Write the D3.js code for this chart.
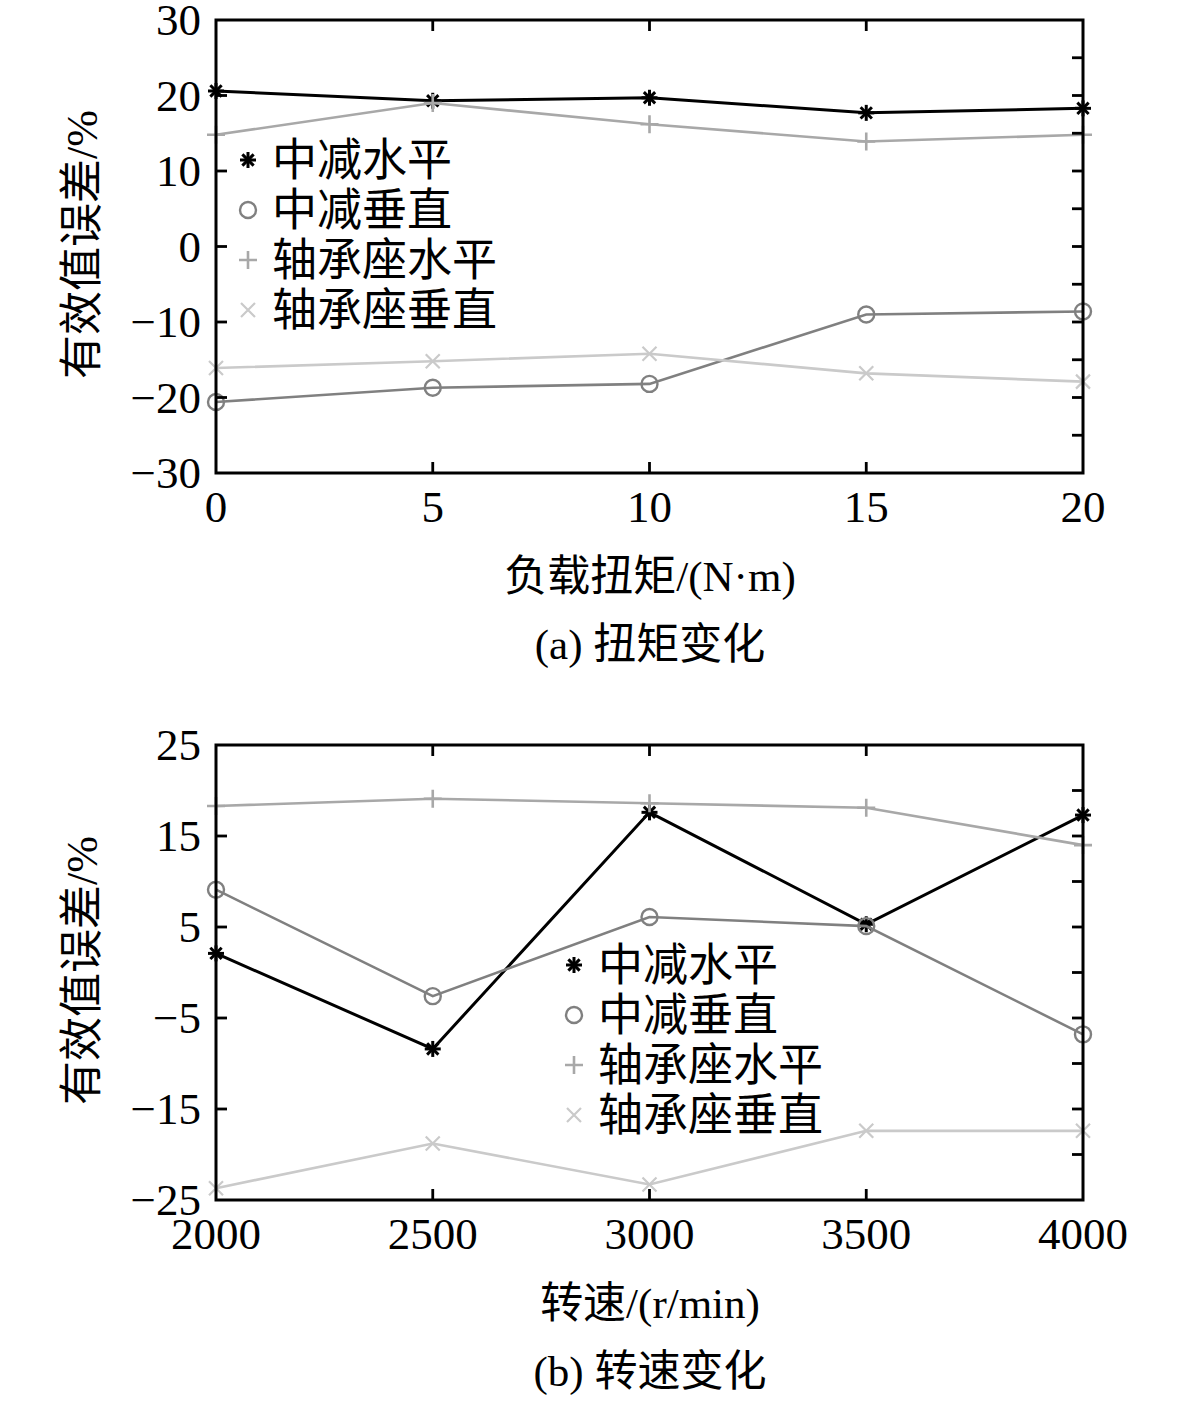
<!DOCTYPE html>
<html>
<head>
<meta charset="utf-8">
<script src="https://cdn.jsdelivr.net/npm/d3@7"></script>
<style>
  body { margin: 0; background: #fff; }
  text { font-family: "Liberation Serif", "Noto Sans CJK SC", serif; fill: #000; }
</style>
</head>
<body>
<div id="chart"></div>
<script>
// series names and styles
var seriesNames = ['中减水平', '中减垂直', '轴承座水平', '轴承座垂直'];
var seriesColors = ['#000000', '#808080', '#a8a8a8', '#cacaca'];
var seriesMarkers = ['star', 'circle', 'plus', 'cross'];

// (a) torque
var torqueX = [0, 5, 10, 15, 20];
var torqueMidH = [20.6, 19.3, 19.7, 17.7, 18.3];
var torqueMidV = [-20.6, -18.7, -18.2, -9.0, -8.6];
var torqueBearH = [14.8, 19.0, 16.2, 13.9, 14.8];
var torqueBearV = [-16.1, -15.2, -14.2, -16.8, -17.9];
var torqueXTicks = [0, 5, 10, 15, 20];
var torqueYTicks = [30, 20, 10, 0, -10, -20, -30];
var torqueYMinor = [25, 20, 15, 10, 5, 0, -5, -10, -15, -20, -25];

// (b) speed
var speedX = [2000, 2500, 3000, 3500, 4000];
var speedMidH = [2.1, -8.4, 17.6, 5.3, 17.3];
var speedMidV = [9.1, -2.6, 6.1, 5.1, -6.8];
var speedBearH = [18.3, 19.1, 18.6, 18.1, 14.0];
var speedBearV = [-23.7, -18.8, -23.3, -17.4, -17.4];
var speedXTicks = [2000, 2500, 3000, 3500, 4000];
var speedYTicks = [25, 15, 5, -5, -15, -25];
var speedYMinor = [20, 15, 10, 5, 0, -5, -10, -15, -20];

var W = 1181, H = 1415;
var svg = d3.select('#chart').append('svg').attr('width', W).attr('height', H);

function minus(v) { return String(v).replace('-', '\u2212'); }

function marker(g, type, color, x, y) {
  var s = 8;
  if (type == 'star') {
    for (var a = 0; a < 4; a++) {
      var ang = a * Math.PI / 4;
      g.append('line')
        .attr('x1', x - s * Math.cos(ang)).attr('y1', y - s * Math.sin(ang))
        .attr('x2', x + s * Math.cos(ang)).attr('y2', y + s * Math.sin(ang))
        .attr('stroke', color).attr('stroke-width', 3);
    }
  } else if (type == 'circle') {
    g.append('circle').attr('cx', x).attr('cy', y).attr('r', 8)
      .attr('fill', 'none').attr('stroke', color).attr('stroke-width', 2.4);
  } else if (type == 'plus') {
    g.append('path').attr('d', 'M' + (x - 9) + ',' + y + 'H' + (x + 9) + 'M' + x + ',' + (y - 9) + 'V' + (y + 9))
      .attr('stroke', color).attr('stroke-width', 2.6);
  } else {
    g.append('path').attr('d', 'M' + (x - 7) + ',' + (y - 7) + 'L' + (x + 7) + ',' + (y + 7) + 'M' + (x - 7) + ',' + (y + 7) + 'L' + (x + 7) + ',' + (y - 7))
      .attr('stroke', color).attr('stroke-width', 2.2);
  }
}

function drawPanel(opt) {
  var left = 216, right = 1083;
  var g = svg.append('g');
  var x = d3.scaleLinear().domain(opt.xDomain).range([left, right]);
  var y = d3.scaleLinear().domain(opt.yDomain).range([opt.bottom, opt.top]);
  var tl = 11;

  // series lines
  opt.series.forEach(function(vals, i) {
    var pts = opt.xs.map(function(d, j) { return [x(d), y(vals[j])]; });
    g.append('path').attr('d', d3.line()(pts))
      .attr('fill', 'none').attr('stroke', seriesColors[i])
      .attr('stroke-width', i == 0 ? 3 : 2.6);
    pts.forEach(function(p) { marker(g, seriesMarkers[i], seriesColors[i], p[0], p[1]); });
  });

  // ticks
  var tk = g.append('g').attr('stroke', '#000').attr('stroke-width', 2.8);
  opt.xTicks.slice(1, -1).forEach(function(t) {
    tk.append('line').attr('x1', x(t)).attr('x2', x(t)).attr('y1', opt.bottom).attr('y2', opt.bottom - tl);
    tk.append('line').attr('x1', x(t)).attr('x2', x(t)).attr('y1', opt.top).attr('y2', opt.top + tl);
  });
  opt.yTicks.slice(1, -1).forEach(function(t) {
    tk.append('line').attr('x1', left).attr('x2', left + tl).attr('y1', y(t)).attr('y2', y(t));
  });
  opt.yMinor.forEach(function(t) {
    tk.append('line').attr('x1', right).attr('x2', right - tl).attr('y1', y(t)).attr('y2', y(t));
  });

  // frame
  g.append('rect').attr('x', left).attr('y', opt.top)
    .attr('width', right - left).attr('height', opt.bottom - opt.top)
    .attr('fill', 'none').attr('stroke', '#000').attr('stroke-width', 3);

  // tick labels
  opt.xTicks.forEach(function(t) {
    g.append('text').attr('x', x(t)).attr('y', opt.bottom + 49)
      .attr('text-anchor', 'middle').attr('font-size', 45).text(t);
  });
  opt.yTicks.forEach(function(t) {
    g.append('text').attr('x', 201).attr('y', y(t) + 15)
      .attr('text-anchor', 'end').attr('font-size', 45).text(minus(t));
  });

  // axis titles
  g.append('text').attr('transform', 'translate(97,' + ((opt.top + opt.bottom) / 2 - 2) + ') rotate(-90)')
    .attr('text-anchor', 'middle').attr('font-size', 44).text('有效值误差/%');
  g.append('text').attr('x', 650).attr('y', opt.bottom + 118)
    .attr('text-anchor', 'middle').attr('font-size', 43).text(opt.xLabel);
  g.append('text').attr('x', 650).attr('y', opt.bottom + 186)
    .attr('text-anchor', 'middle').attr('font-size', 43).text(opt.caption);

  // legend
  seriesNames.forEach(function(n, i) {
    var ly = opt.legendY + i * 50;
    marker(g, seriesMarkers[i], seriesColors[i], opt.legendX, ly);
    g.append('text').attr('x', opt.legendX + 24).attr('y', ly + 16)
      .attr('font-size', 45).text(n);
  });
}

drawPanel({
  top: 20, bottom: 473,
  xDomain: [0, 20], yDomain: [-30, 30],
  xs: torqueX,
  series: [torqueMidH, torqueMidV, torqueBearH, torqueBearV],
  xTicks: torqueXTicks, yTicks: torqueYTicks, yMinor: torqueYMinor,
  xLabel: '负载扭矩/(N·m)', caption: '(a) 扭矩变化',
  legendX: 248, legendY: 160
});

drawPanel({
  top: 745, bottom: 1200,
  xDomain: [2000, 4000], yDomain: [-25, 25],
  xs: speedX,
  series: [speedMidH, speedMidV, speedBearH, speedBearV],
  xTicks: speedXTicks, yTicks: speedYTicks, yMinor: speedYMinor,
  xLabel: '转速/(r/min)', caption: '(b) 转速变化',
  legendX: 574, legendY: 965
});
</script>
</body>
</html>
